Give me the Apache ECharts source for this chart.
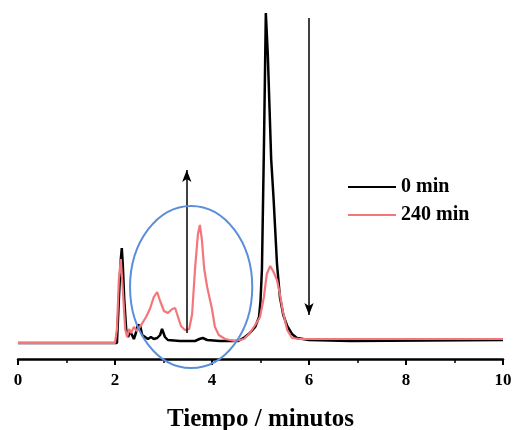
<!DOCTYPE html>
<html>
<head>
<meta charset="utf-8">
<script src="https://cdn.jsdelivr.net/npm/echarts@6/dist/echarts.min.js"></script>
<style>
  html, body { margin: 0; padding: 0; background: #fff; }
  #chart { width: 517px; height: 430px; }
</style>
</head>
<body>
<div id="chart"></div>
<script>
// Chromatogram traces: [retention time (min), detector response]
const seriesNames = ['0 min', '240 min'];

const trace0 = [
  [0.00, 16], [2.04, 16], [2.08, 60], [2.12, 100], [2.14, 111], [2.16, 95],
  [2.19, 60], [2.23, 30], [2.27, 22], [2.31, 28], [2.35, 24], [2.39, 20],
  [2.43, 26], [2.47, 34], [2.52, 33], [2.56, 24], [2.62, 22], [2.68, 20],
  [2.74, 22], [2.80, 20], [2.87, 21], [2.93, 24], [2.97, 30], [2.99, 32],
  [3.03, 22], [3.09, 19], [3.34, 18], [3.65, 18], [3.74, 20], [3.81, 21],
  [3.90, 19], [4.16, 18], [4.54, 18], [4.68, 22], [4.78, 26], [4.89, 32],
  [4.97, 42], [5.00, 58], [5.03, 90], [5.07, 210], [5.11, 346], [5.15, 305],
  [5.22, 200], [5.27, 160], [5.34, 95], [5.40, 62], [5.47, 44], [5.55, 33],
  [5.65, 25], [5.75, 21], [6.00, 19], [6.85, 18], [10.00, 19]
];

const trace240 = [
  [0.00, 16], [2.00, 16], [2.04, 30], [2.08, 80], [2.12, 100], [2.16, 70],
  [2.21, 30], [2.25, 22], [2.29, 30], [2.33, 26], [2.39, 32], [2.45, 28],
  [2.54, 34], [2.64, 42], [2.72, 50], [2.80, 62], [2.87, 67], [2.93, 58],
  [3.01, 48], [3.09, 46], [3.18, 50], [3.24, 51], [3.30, 42], [3.36, 33],
  [3.44, 29], [3.53, 30], [3.59, 45], [3.65, 90], [3.71, 125], [3.75, 134],
  [3.79, 120], [3.84, 90], [3.90, 72], [3.94, 70], [4.00, 50], [4.06, 32],
  [4.14, 24], [4.27, 20], [4.47, 18], [4.66, 20], [4.78, 26], [4.89, 34],
  [4.99, 42], [5.07, 62], [5.13, 85], [5.20, 93], [5.26, 88], [5.34, 79],
  [5.40, 65], [5.46, 48], [5.55, 29], [5.65, 21], [5.81, 20], [6.23, 20],
  [7.88, 20], [10.00, 20]
];

// Trend arrows: [time, from response, to response]
const arrowUp = [3.48, 26, 189];
const arrowDown = [6.00, 341, 44];

// Highlighted region (ellipse): centre time, centre response, half-width (min), half-height
const region = { x: 3.57, y: 72, rx: 1.26, ry: 81 };

const serif = '"Liberation Serif", "Times New Roman", serif';

const chart = echarts.init(document.getElementById('chart'));

function arrowLine(a) {
  return [{ coord: [a[0], a[1]], symbol: 'none' }, { coord: [a[0], a[2]], symbol: 'arrow' }];
}

chart.setOption({
  animation: false,
  grid: { left: 18, right: 14, top: 0, bottom: 71, outerBoundsMode: 'none', containLabel: false },
  legend: {
    orient: 'vertical',
    left: 343,
    top: 172,
    itemWidth: 48,
    itemHeight: 2,
    itemGap: 8,
    icon: 'rect',
    textStyle: { fontFamily: serif, fontWeight: 'bold', fontSize: 20, color: '#000', lineHeight: 20, padding: [0, 0, 0, 0] },
    data: seriesNames
  },
  xAxis: {
    type: 'value',
    min: 0,
    max: 10,
    interval: 2,
    name: 'Tiempo / minutos',
    nameLocation: 'middle',
    nameGap: 48,
    nameTextStyle: { fontFamily: serif, fontWeight: 'bold', fontSize: 25, color: '#000' },
    axisLine: { lineStyle: { color: '#000', width: 2.5 } },
    axisTick: { length: 6, lineStyle: { color: '#000', width: 2 } },
    minorTick: { show: true, splitNumber: 2, length: 4, lineStyle: { color: '#000', width: 1.5 } },
    splitLine: { show: false },
    axisLabel: { fontFamily: serif, fontWeight: 'bold', fontSize: 17, color: '#000', margin: 13 }
  },
  yAxis: {
    type: 'value',
    min: 0,
    max: 359,
    show: false,
    splitLine: { show: false }
  },
  series: [
    {
      name: seriesNames[0],
      type: 'line',
      data: trace0,
      showSymbol: false,
      color: '#000',
      lineStyle: { color: '#000', width: 2.5 },
      z: 2,
      markLine: {
        silent: true,
        symbolSize: [7, 12],
        label: { show: false },
        lineStyle: { color: '#000', width: 1.5, type: 'solid' },
        data: [arrowLine(arrowUp), arrowLine(arrowDown)]
      }
    },
    {
      name: seriesNames[1],
      type: 'line',
      data: trace240,
      showSymbol: false,
      color: '#f2767a',
      lineStyle: { color: '#f2767a', width: 2.2 },
      z: 3
    }
  ]
});

// Ellipse around the new degradation peaks, placed through the axis scales
const c = chart.convertToPixel({ gridIndex: 0 }, [region.x, region.y]);
const e = chart.convertToPixel({ gridIndex: 0 }, [region.x + region.rx, region.y + region.ry]);
chart.setOption({
  graphic: [{
    type: 'ellipse',
    shape: { cx: c[0], cy: c[1], rx: Math.abs(e[0] - c[0]), ry: Math.abs(c[1] - e[1]) },
    style: { fill: 'none', stroke: '#5b8fd9', lineWidth: 2 },
    z: 10
  }]
});
</script>
</body>
</html>
